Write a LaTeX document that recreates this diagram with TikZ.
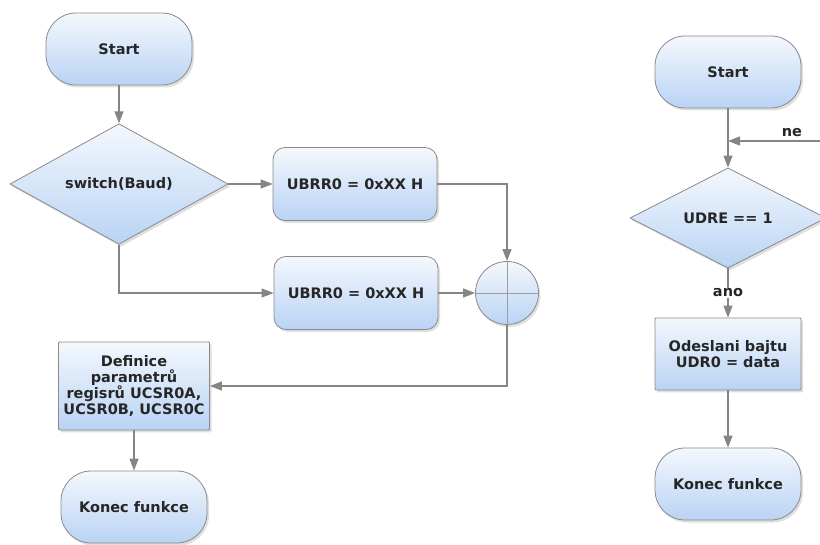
\documentclass[tikz,border=0pt]{standalone}
\usepackage{fontspec}
\setmainfont{DejaVu Sans}
\usetikzlibrary{shapes.geometric, shadows, arrows.meta}

\definecolor{boxtop}{HTML}{F4F8FD}
\definecolor{boxbot}{HTML}{B9D3F4}
\definecolor{edge}{HTML}{8A8A8A}
\definecolor{wire}{HTML}{858585}

\tikzset{
  base/.style={draw=edge, line width=0.8pt, top color=boxtop, bottom color=boxbot,
    drop shadow={opacity=0.25, shadow xshift=2pt, shadow yshift=-2.5pt},
    font=\bfseries\fontsize{14.5}{16}\selectfont, text=black!85, align=center, inner sep=2pt},
  term/.style={base, rectangle, rounded corners=30pt, minimum width=146pt, minimum height=72pt},
  proc/.style={base, rectangle, rounded corners=12pt, minimum width=164pt, minimum height=73pt},
  defbox/.style={base, rectangle, rounded corners=1pt, minimum width=151pt, minimum height=88pt},
  decide/.style={base, diamond, inner sep=0pt},
  sumnode/.style={base, circle, minimum size=63pt, inner sep=0pt},
  flow/.style={draw=wire, line width=1.3pt, -{Triangle[length=12pt,width=9pt]}},
  wireonly/.style={draw=wire!80, line width=0.9pt},
  lbl/.style={font=\bfseries\fontsize{14.5}{16}\selectfont, text=black!85}
}

\begin{document}
\begin{tikzpicture}[x=1pt, y=-1pt]
        \useasboundingbox (0,0) rectangle (820,545);
        \clip (0,0) rectangle (820,545);

        % left: baud rate setup
        \node[term] (start1) at (119,49) {Start};
        \node[decide, minimum width=218pt, minimum height=112pt] (switch) at (119,184) {switch(Baud)};
        \node[proc] (ubrr1) at (355,184) {UBRR0 = 0xXX H};
        \node[proc] (ubrr2) at (356,293) {UBRR0 = 0xXX H};
        \node[sumnode] (sum) at (507,293) {};
        \node[defbox] (defin) at (134,386) {Definice\\parametrů\\regisrů UCSR0A,\\UCSR0B, UCSR0C};
        \node[term] (konec1) at (134,507) {Konec funkce};

        \draw[wireonly] (sum.north) -- (sum.south);
        \draw[wireonly] (sum.west) -- (sum.east);

        \draw[flow] (start1) -- (switch.north);
        \draw[flow] (switch.east) -- (ubrr1.west);
        \draw[flow] (switch.south) |- (ubrr2.west);
        \draw[flow] (ubrr1.east) -| (sum.north);
        \draw[flow] (ubrr2.east) -- (sum.west);
        \draw[flow] (sum.south) |- (defin.east);
        \draw[flow] (defin) -- (konec1);

        % right: sending one byte
        \node[term] (start2) at (728,72) {Start};
        \node[decide, minimum width=196pt, minimum height=97pt] (udre) at (728,218) {UDRE == 1};
        \node[term, rounded corners=1pt] (odesl) at (728,354) {Odeslani bajtu\\UDR0 = data};
        \node[term] (konec2) at (728,484) {Konec funkce};
        \coordinate (back) at (822,141);
        \coordinate (merge) at (728,141);

        \draw[flow] (start2) -- (udre.north);
        \draw[flow] (back) -- node[lbl, above, pos=0.32] {ne} (merge);
        \draw[flow] (udre.south) -- node[lbl, fill=white, inner sep=1pt] {ano} (odesl);
        \draw[flow] (odesl) -- (konec2);
    \end{tikzpicture}
\end{document}
